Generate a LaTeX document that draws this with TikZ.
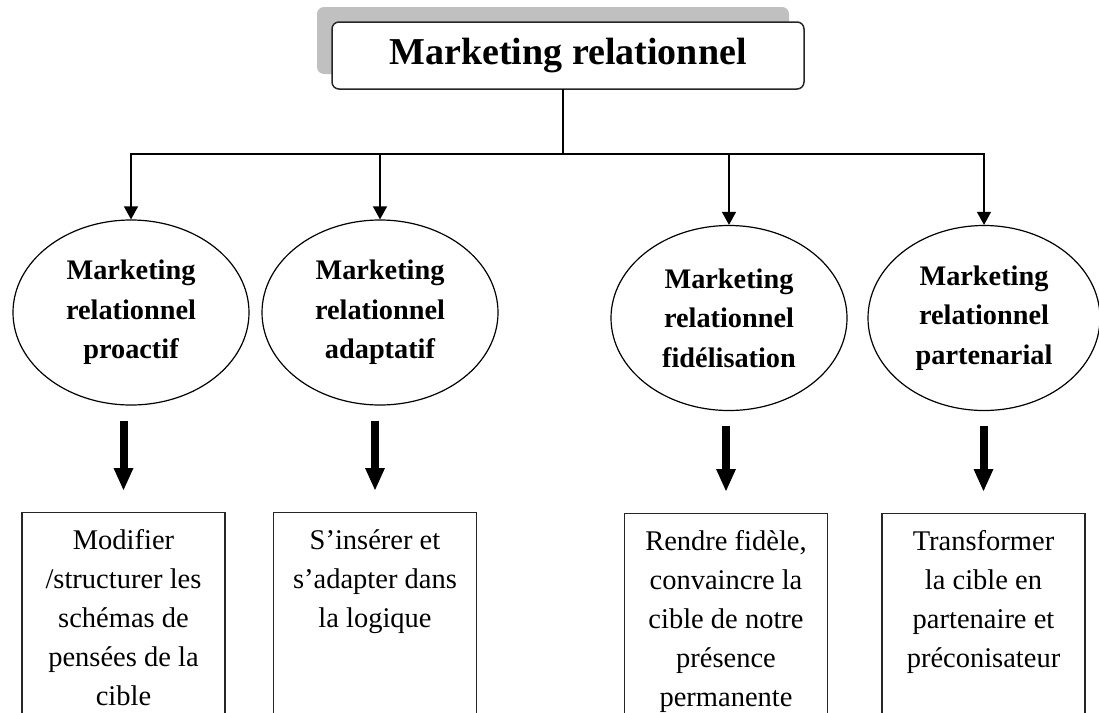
\documentclass[tikz,border=0pt]{standalone}
\usepackage{fontspec}
\setmainfont{Liberation Serif}
\usetikzlibrary{arrows.meta,shapes.geometric,shadows}
\definecolor{shadowgray}{RGB}{192,192,192}
\begin{document}
\begin{tikzpicture}[x=1pt,y=-1pt,
  headbox/.style={draw=black!85, line width=1.5pt, rounded corners=7pt,
    minimum width=472pt, minimum height=67pt, inner sep=0pt, fill=white,
    font=\fontsize{38}{44}\selectfont\bfseries,
    drop shadow={shadow xshift=-15pt, shadow yshift=15pt, fill=shadowgray, opacity=1}},
  branch/.style={ellipse, draw, line width=1.2pt, minimum width=236pt,
    minimum height=185pt, inner sep=0pt, align=center,
    font=\fontsize{28.3}{39.5}\selectfont\bfseries},
  goal/.style={draw=black!85, line width=1.4pt, minimum width=203pt,
    minimum height=230pt, anchor=north, inner sep=0pt},
  goaltext/.style={anchor=north, align=center, inner sep=0pt,
    font=\fontsize{28.5}{39}\selectfont},
  bus/.style={line width=1.2pt, line cap=rect},
  link/.style={line width=1.2pt, -{Triangle[width=14pt,length=13pt]}},
  flow/.style={line width=8pt, -{Triangle[width=20pt,length=22pt,line width=0pt]},
    shorten <=15pt, shorten >=22pt}
]
\useasboundingbox (0,0) rectangle (1099,712);
\clip (0,0) rectangle (1099,712);

% root
\node[headbox] (top) at (568,55.5) {Marketing relationnel};

% four kinds of relationship marketing
\node[branch] (e1) at (131,312.5) {Marketing\\relationnel\\proactif};
\node[branch] (e2) at (380,312.5) {Marketing\\relationnel\\adaptatif};
\node[branch] (e3) at (729,318) {Marketing\\relationnel\\fidélisation};
\node[branch, minimum width=232pt] (e4) at (984,318) {Marketing\\relationnel\\partenarial};

% tree connectors
\coordinate (hub) at (563,154);
\draw[bus] (top.south -| hub) -- (hub);
\draw[bus] (hub -| e1.north) -- (hub -| e4.north);
\foreach \e in {e1,e2,e3,e4}
  \draw[link] (hub -| \e.north) -- (\e.north);

% objectives
\node[goal] (b1) at (123.5,512) {};
\node[goal] (b2) at (375,512) {};
\node[goal] (b3) at (726,513) {};
\node[goal] (b4) at (983.5,513) {};

\node[goaltext] (t1) at ([yshift=-17.5pt]b1.north)
  {Modifier\\/structurer les\\schémas de\\pensées de la\\cible};
\node[goaltext] (t2) at ([yshift=-17.5pt]b2.north)
  {S’insérer et\\s’adapter dans\\la logique};
\node[goaltext] (t3) at ([yshift=-17.5pt]b3.north)
  {Rendre fidèle,\\convaincre la\\cible de notre\\présence\\permanente};
\node[goaltext] (t4) at ([yshift=-17.5pt]b4.north)
  {Transformer\\la cible en\\partenaire et\\préconisateur};

% heavy arrows from each kind to its objective
\draw[flow] (b1.north |- e1.south) -- (b1.north);
\draw[flow] (b2.north |- e2.south) -- (b2.north);
\draw[flow] (b3.north |- e3.south) -- (b3.north);
\draw[flow] (b4.north |- e4.south) -- (b4.north);
\end{tikzpicture}
\end{document}
